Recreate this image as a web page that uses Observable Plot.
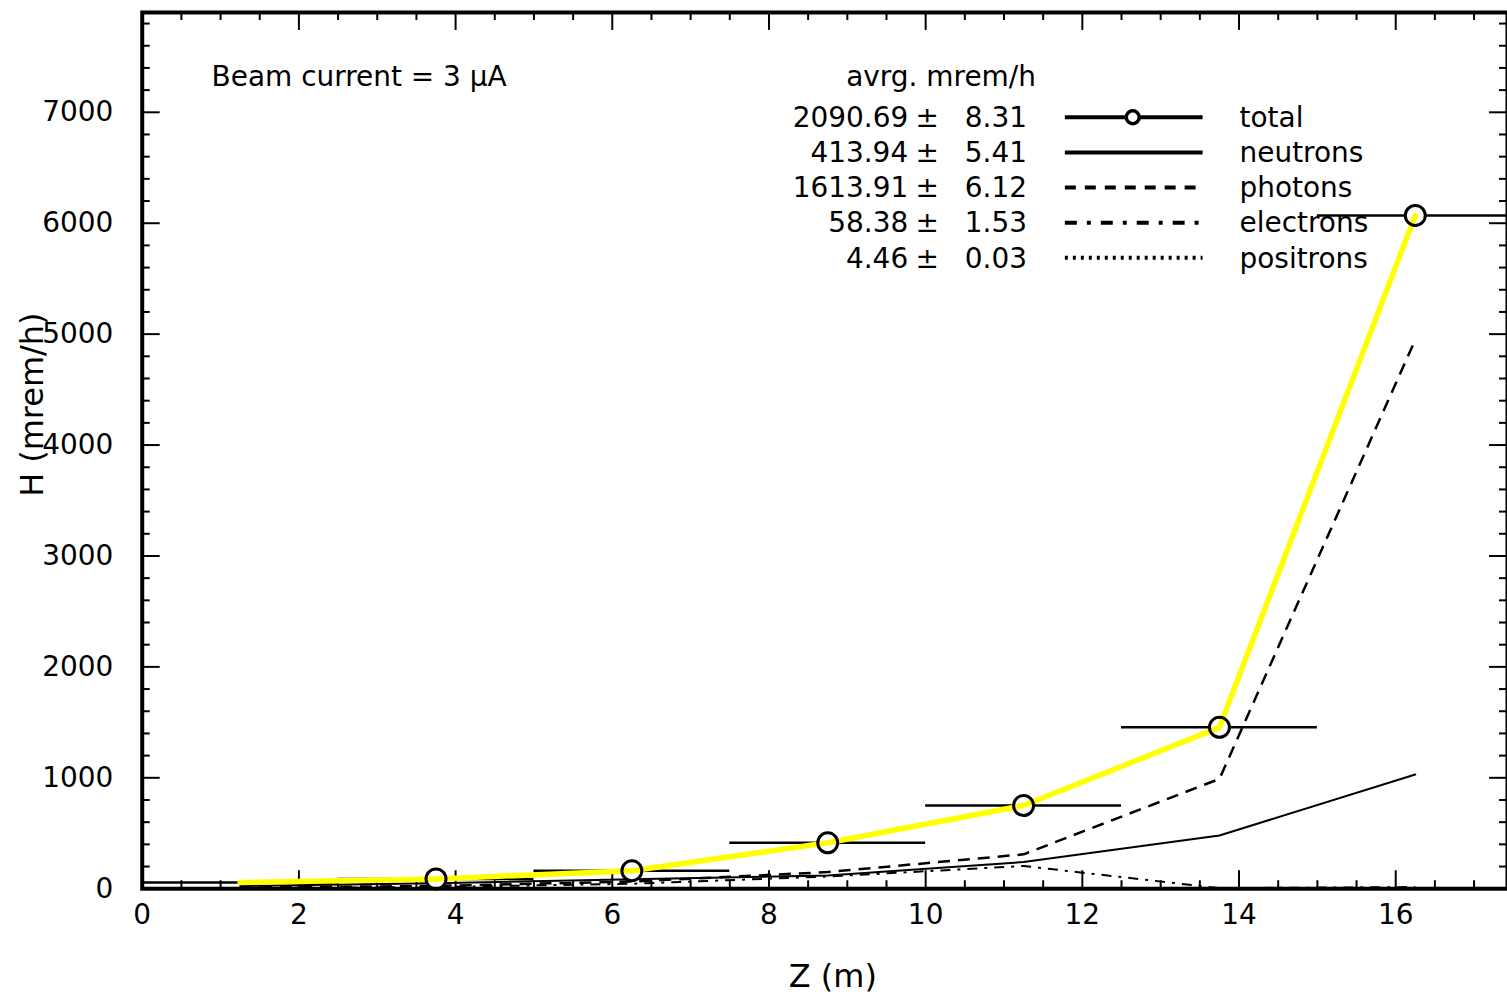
<!DOCTYPE html>
<html><head><meta charset="utf-8">
<script src="https://cdn.jsdelivr.net/npm/d3@7"></script>
<script src="https://cdn.jsdelivr.net/npm/@observablehq/plot@0.6"></script>
<style>
html,body{margin:0;padding:0;background:#fff;overflow:hidden}
#wrap{width:1507px;height:1000px;overflow:hidden}
</style></head><body><div id="wrap"></div>
<script>
// ---- data ----
const binLo = [0, 2.5, 5, 7.5, 10, 12.5, 15];
const binHi = [2.5, 5, 7.5, 10, 12.5, 15, 17.5];
const binMid = [1.25, 3.75, 6.25, 8.75, 11.25, 13.75, 16.25];
const total = [55, 88, 162, 414, 750, 1455, 6070];
const neutrons = [25, 50, 85, 120, 240, 480, 1030];
const photons = [10, 25, 65, 150, 310, 990, 4950];
const electrons = [5, 15, 45, 110, 205, 5, 15];
const positrons = [1, 2, 3, 4, 5, 3, 3];
const showMarker = [false, true, true, true, true, true, true];

const xTicks = [0, 2, 4, 6, 8, 10, 12, 14, 16];
const yTicks = [0, 1000, 2000, 3000, 4000, 5000, 6000, 7000];

const legendLabels = ["total", "neutrons", "photons", "electrons", "positrons"];
const legendAvg = ["2090.69", "413.94", "1613.91", "58.38", "4.46"];
const legendErr = ["8.31", "5.41", "6.12", "1.53", "0.03"];
const headerText = "avrg. mrem/h";
const beamText = "Beam current = 3 \u03BCA";
const xLabel = "Z (m)";
const yLabel = "H (mrem/h)";

// ---- layout ----
const W = 1510, H = 1000, mL = 142, mR = 0, mT = 12, mB = 110;
const plotW = W - mL - mR, plotH = H - mT - mB;
const pxPerUnit = 78.5;

const xMinor = d3.range(0.5, 17.5, 0.5).filter(v => v % 2 !== 0);
const yMinor = d3.range(200, 7900, 200).filter(v => v % 1000 !== 0);

const rows = binMid.map((x, i) => ({
  x, lo: binLo[i], hi: binHi[i], total: total[i], neutrons: neutrons[i],
  photons: photons[i], electrons: electrons[i], positrons: positrons[i], marker: showMarker[i]
}));
const markerRows = rows.filter(d => d.marker);

const FONT = "'DejaVu Sans', 'Liberation Sans', sans-serif";

const chart = Plot.plot({
  width: W, height: H,
  marginLeft: mL, marginRight: mR, marginTop: mT, marginBottom: mB,
  x: {domain: [0, plotW / pxPerUnit], axis: null},
  y: {domain: [0, 7900], axis: null},
  style: {fontFamily: FONT, fontSize: "28px", background: "white", color: "black", overflow: "hidden"},
  marks: [
    // ticks (inward)
    Plot.tickX(xTicks, {x: d => d, stroke: "black", strokeWidth: 2, insetTop: plotH - 18}),
    Plot.tickX(xTicks, {x: d => d, stroke: "black", strokeWidth: 2, insetBottom: plotH - 18}),
    Plot.tickX(xMinor, {x: d => d, stroke: "black", strokeWidth: 2, insetTop: plotH - 8}),
    Plot.tickX(xMinor, {x: d => d, stroke: "black", strokeWidth: 2, insetBottom: plotH - 8}),
    Plot.tickY(yTicks, {y: d => d, stroke: "black", strokeWidth: 2, insetRight: plotW - 18}),
    Plot.tickY(yTicks, {y: d => d, stroke: "black", strokeWidth: 2, insetLeft: plotW - 18}),
    Plot.tickY(yMinor, {y: d => d, stroke: "black", strokeWidth: 2, insetRight: plotW - 8}),
    Plot.tickY(yMinor, {y: d => d, stroke: "black", strokeWidth: 2, insetLeft: plotW - 8}),
    // tick labels
    Plot.text(xTicks, {x: d => d, text: d => String(d), frameAnchor: "bottom", dy: 15, lineAnchor: "top", textAnchor: "middle", fontSize: 28}),
    Plot.text(yTicks, {y: d => d, text: d => String(d), frameAnchor: "left", dx: -29, textAnchor: "end", lineAnchor: "middle", fontSize: 28}),
    // axis titles
    Plot.text([xLabel], {text: d => d, frameAnchor: "bottom", dx: 8, dy: 88, textAnchor: "middle", lineAnchor: "middle", fontSize: 32}),
    Plot.text([yLabel], {text: d => d, frameAnchor: "left", dx: -110, dy: -46, rotate: -90, textAnchor: "middle", lineAnchor: "middle", fontSize: 32}),
    // component lines
    Plot.line(rows, {x: "x", y: "positrons", stroke: "black", strokeWidth: 2, strokeDasharray: "2,5", strokeLinecap: "butt"}),
    Plot.line(rows, {x: "x", y: "electrons", stroke: "black", strokeWidth: 2, strokeDasharray: "10,7,3,7", strokeLinecap: "butt"}),
    Plot.line(rows, {x: "x", y: "photons", stroke: "black", strokeWidth: 2.5, strokeDasharray: "12,8", strokeLinecap: "butt"}),
    Plot.line(rows, {x: "x", y: "neutrons", stroke: "black", strokeWidth: 2}),
    // total: error bars, markers, yellow line
    Plot.ruleY(rows, {y: "total", x1: "lo", x2: "hi", stroke: "black", strokeWidth: 2.5}),
    Plot.dot(markerRows, {x: "x", y: "total", r: 10, fill: "white", stroke: "none"}),
    Plot.line(rows, {x: "x", y: "total", stroke: "#ffff00", strokeWidth: 5.5}),
    Plot.dot(markerRows, {x: "x", y: "total", r: 10, fill: "none", stroke: "black", strokeWidth: 3}),
    // frame
    Plot.frame({stroke: "black", strokeWidth: 4})
  ]
});

// ---- legend / annotation (drawn into the same svg) ----
const svg = d3.select(chart);
const g = svg.append("g").attr("font-family", FONT).attr("font-size", 28).attr("fill", "black").attr("text-anchor", "start");
g.append("text").attr("x", 212).attr("y", 76).attr("dy", "0.35em").attr("text-anchor", "start").text(beamText);
g.append("text").attr("x", 1038).attr("y", 76).attr("dy", "0.35em").attr("text-anchor", "end").text(headerText);

const rowY0 = 117.5, rowStep = 35.2;
const x0 = 1067, x1 = 1205;
const dashes = [null, null, "11,9", "12,10,4,10", "3,5"];
legendLabels.forEach((lab, i) => {
  const y = rowY0 + i * rowStep;
  g.append("text").attr("x", 910).attr("y", y).attr("dy", "0.35em").attr("text-anchor", "end").text(legendAvg[i]);
  g.append("text").attr("x", 929).attr("y", y).attr("dy", "0.35em").attr("text-anchor", "middle").text("\u00B1");
  g.append("text").attr("x", 1029).attr("y", y).attr("dy", "0.35em").attr("text-anchor", "end").text(legendErr[i]);
  g.append("text").attr("x", 1242).attr("y", y).attr("dy", "0.35em").attr("text-anchor", "start").text(lab);
  const ln = g.append("line").attr("x1", x0).attr("x2", x1).attr("y1", y).attr("y2", y)
    .attr("stroke", "black").attr("stroke-width", 4).attr("fill", "none");
  if (dashes[i]) ln.attr("stroke-dasharray", dashes[i]);
  if (i === 0) {
    g.append("circle").attr("cx", 1135).attr("cy", y).attr("r", 6.5)
      .attr("fill", "white").attr("stroke", "black").attr("stroke-width", 3.5);
  }
});

document.getElementById("wrap").appendChild(chart);
</script>
</body></html>
